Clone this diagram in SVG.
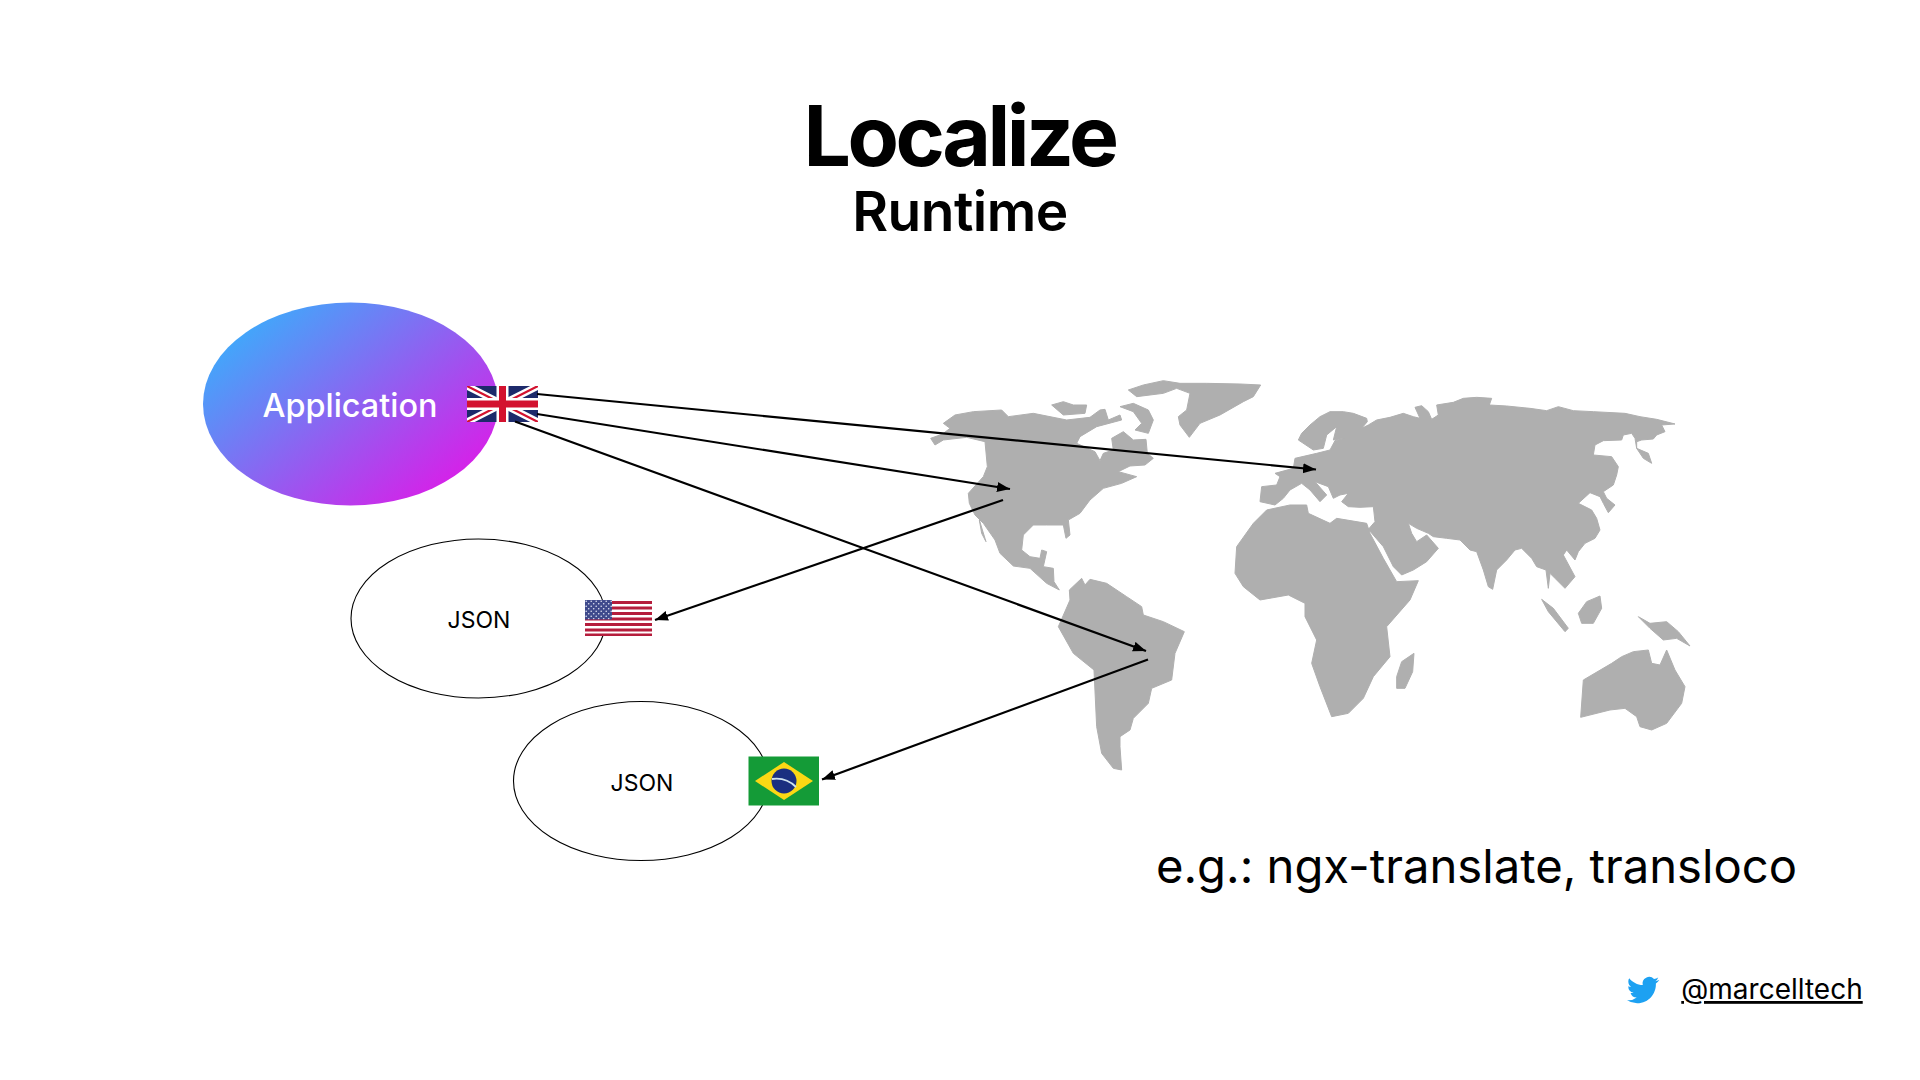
<svg xmlns="http://www.w3.org/2000/svg" width="1920" height="1080" viewBox="0 0 1920 1080">
<style>
text{font-family:"Inter","Liberation Sans",sans-serif;fill:#000;text-anchor:middle}
.land{fill:#afafaf;stroke:#afafaf;stroke-width:3;stroke-linejoin:round}
.cn{fill:none;stroke:#000;stroke-width:2.2}
.oval{fill:#fff;stroke:#000;stroke-width:1.1}
</style>
<defs>
<linearGradient id="g" x1="0.08" y1="0.15" x2="0.9" y2="0.85"><stop offset="0" stop-color="#3dabfb"/><stop offset="1" stop-color="#d81fe8"/></linearGradient>
<marker id="a" markerUnits="userSpaceOnUse" markerWidth="14" markerHeight="12" refX="13" refY="5" orient="auto"><path d="M0 0L13 5L0 10z" fill="#000"/></marker>
<clipPath id="uk"><rect x="467" y="386" width="71" height="36"/></clipPath>
<clipPath id="usc"><rect x="585" y="600" width="67" height="36"/></clipPath>
<pattern id="stars" width="5" height="5" patternUnits="userSpaceOnUse"><rect width="5" height="5" fill="#3f4a8c"/><circle cx="1.2" cy="1.2" r=".8" fill="#dfe3f3"/><circle cx="3.7" cy="3.7" r=".8" fill="#dfe3f3"/></pattern>
</defs>
<rect width="1920" height="1080" fill="#fff"/>
<text id="title" x="959.500" y="166" font-size="84" font-weight="700" letter-spacing="-3.500">Localize</text>
<text id="subtitle" x="960" y="231" font-size="55" font-weight="600" letter-spacing="-.5">Runtime</text>
<g id="map">
<g class="land" transform="translate(900,360) scale(.33333)">
<path d="M92 235L128 222L150 205L130 190L165 165L220 155L305 150L325 170L400 160L500 180L570 172L600 150L615 148L625 180L660 165L665 180L590 200L540 230L530 250L585 275L600 302L610 280L640 270L635 235L670 215L700 240L738 238L742 280L760 295L735 315L690 318L655 335L710 350L665 370L610 385L570 420L540 460L505 480L510 525L498 535L490 495L440 495L400 495L370 525L365 570L390 590L420 595L425 570L440 575L430 620L460 625L462 665L478 690L440 670L390 625L340 618L300 580L285 540L250 490L225 465L208 430L205 400L250 350L262 320L255 245L200 232L130 240L105 255z"/>
<path d="M238 480L258 545L245 520z"/>
<path d="M685 90L730 75L790 62L840 70L920 70L1020 72L1082 75L1060 110L1030 125L960 165L900 190L868 232L840 195L835 170L860 150L870 100L830 85L790 100L710 110z"/>
<path d="M455 135L490 125L520 135L560 135L555 160L490 165z"/>
<path d="M660 140L700 130L745 150L760 180L745 220L705 210L725 190L700 155z"/>
<path d="M508 690L545 655L555 675L570 658L620 670L680 710L725 740L730 765L790 785L853 815L825 880L815 960L755 985L745 1030L700 1075L690 1110L660 1130L660 1160L665 1230L640 1225L605 1180L590 1100L582 930L520 880L475 800L510 720z"/>
</g>
<g class="land" transform="translate(1220,370) scale(.33333)">
<path d="M235 210L245 190L270 165L300 140L330 125L370 125L400 130L440 145L442 155L425 175L445 165L470 150L510 142L550 130L580 140L600 145L585 112L605 107L625 125L635 148L655 135L650 105L700 97L730 85L770 82L815 85L808 105L860 108L930 115L980 122L1015 110L1060 122L1120 125L1215 130L1260 140L1310 148L1365 162L1325 165L1335 185L1310 195L1300 207L1265 210L1250 215L1250 235L1285 250L1295 280L1270 265L1250 235L1245 205L1235 190L1210 195L1205 210L1150 212L1125 225L1120 255L1175 260L1195 290L1190 315L1180 345L1150 365L1160 385L1185 405L1165 428L1150 400L1140 380L1110 368L1075 400L1115 420L1130 445L1140 480L1125 505L1095 520L1075 545L1065 570L1040 540L1030 555L1065 620L1035 655L1005 625L990 610L985 655L978 600L950 590L935 565L905 535L885 540L860 570L830 600L818 658L805 650L790 600L770 545L750 540L720 510L680 505L640 500L625 490L590 475L565 460L575 490L590 515L620 495L655 535L620 575L580 600L545 615L520 590L490 530L445 478L465 455L460 410L420 412L385 410L365 395L385 370L360 375L340 385L325 350L285 335L320 375L300 395L270 360L245 340L210 360L190 385L165 405L120 395L125 350L170 345L180 320L165 310L220 295L225 265L290 250L330 240L345 212L375 205L340 210L350 170L320 195L310 235L280 240z"/>
<path d="M140 420L210 405L260 405L265 430L330 460L350 445L440 460L450 490L490 565L530 635L595 632L570 690L500 770L510 860L460 920L430 985L385 1030L335 1040L300 950L275 880L290 810L255 740L255 700L205 675L120 690L70 650L45 610L50 530L100 460z"/>
<path d="M582 850L578 905L555 955L530 955L530 920L545 875z"/>
<path d="M965 688L1000 715L1045 775L1035 785L985 725z"/>
<path d="M1140 678L1145 715L1120 760L1085 760L1075 730L1100 695z"/>
<path d="M1255 740L1290 760L1340 755L1375 785L1410 828L1370 805L1330 810L1290 775z"/>
<path d="M1090 930L1175 880L1205 860L1240 845L1285 840L1295 880L1320 885L1340 840L1365 900L1395 950L1385 1000L1340 1060L1295 1080L1260 1070L1250 1040L1215 1015L1170 1020L1082 1042z"/>
</g>
</g>
<g id="app">
<ellipse cx="350.500" cy="404" rx="147.500" ry="101.500" fill="url(#g)"/>
<text x="350" y="417" font-size="32.400" font-weight="500" style="fill:#fff">Application</text>
</g>
<g id="json-us">
<ellipse class="oval" cx="478.500" cy="618.500" rx="127.500" ry="79.500"/>
<text x="479" y="628" font-size="23">JSON</text>
</g>
<g id="json-br">
<ellipse class="oval" cx="641" cy="781" rx="127.500" ry="79.500"/>
<text x="642" y="791" font-size="23">JSON</text>
</g>
<g id="flag-uk" clip-path="url(#uk)">
<rect x="467" y="386" width="71" height="36" fill="#1d2a6b"/>
<path d="M467 386L538 422M538 386L467 422" stroke="#fff" stroke-width="7"/>
<path d="M467 386L538 422M538 386L467 422" stroke="#d3122f" stroke-width="2.200"/>
<path d="M502.500 386V422M467 404H538" stroke="#fff" stroke-width="12"/>
<path d="M502.500 386V422M467 404H538" stroke="#d3122f" stroke-width="7"/>
</g>
<g id="flag-us" clip-path="url(#usc)">
<rect x="585" y="600" width="67" height="36" fill="#fff"/>
<path d="M585 602.500H652M585 608H652M585 613.500H652M585 619H652M585 624.500H652M585 630H652M585 635H652" stroke="#b51d3c" stroke-width="2.800"/>
<rect x="585" y="600" width="27" height="19.500" fill="url(#stars)"/>
</g>
<g id="flag-br">
<rect x="748.500" y="756.500" width="70.500" height="49" fill="#149b37"/>
<path d="M755 781L784 762L813 781L784 800z" fill="#fbd814"/>
<circle cx="784" cy="781" r="12.500" fill="#1a2f80"/>
<path d="M772 779Q786 777 796 787" fill="none" stroke="#cfe3ef" stroke-width="1.800"/>
</g>
<g id="connectors">
<path class="cn" marker-end="url(#a)" d="M537 394L1316 469.500"/>
<path class="cn" marker-end="url(#a)" d="M537 414L1010 489"/>
<path class="cn" marker-end="url(#a)" d="M515 421.500L1146 651"/>
<path class="cn" marker-end="url(#a)" d="M1003 500L655 620"/>
<path class="cn" marker-end="url(#a)" d="M1148 659.500L822 779.500"/>
</g>
<text id="note" x="1476.500" y="883" font-size="47.200">e.g.: ngx-translate, transloco</text>
<g id="twitter">
<path transform="translate(1627,974) scale(1.34)" fill="#1da1f2" d="M23.953 4.57a10 10 0 01-2.825.775 4.958 4.958 0 002.163-2.723c-.951.555-2.005.959-3.127 1.184a4.92 4.92 0 00-8.384 4.482C7.69 8.095 4.067 6.13 1.64 3.162a4.822 4.822 0 00-.666 2.475c0 1.71.87 3.213 2.188 4.096a4.904 4.904 0 01-2.228-.616v.06a4.923 4.923 0 003.946 4.827 4.996 4.996 0 01-2.212.085 4.936 4.936 0 004.604 3.417 9.867 9.867 0 01-6.102 2.105c-.39 0-.779-.023-1.17-.067a13.995 13.995 0 007.557 2.209c9.053 0 13.998-7.496 13.998-13.985 0-.21 0-.42-.015-.63A9.935 9.935 0 0024 4.59z"/>
<text x="1772" y="999" font-size="28" text-decoration="underline">@marcelltech</text>
</g>
</svg>
